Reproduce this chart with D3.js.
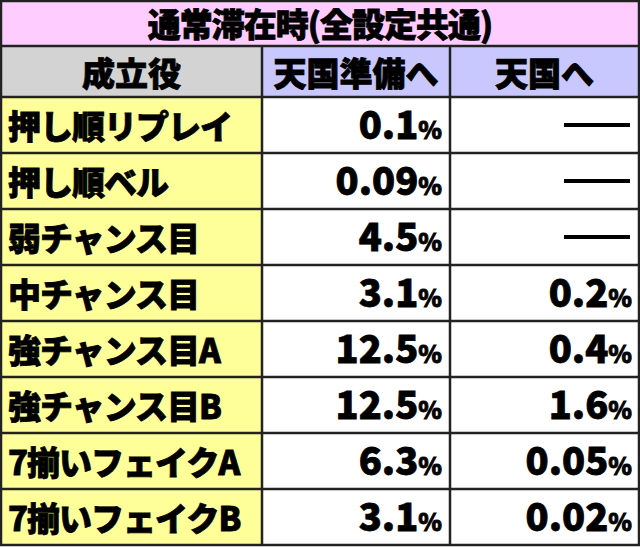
<!DOCTYPE html><html><head><meta charset="utf-8"><script src="https://cdn.jsdelivr.net/npm/d3@7"></script>
<style>body{margin:0;background:#fff}text{stroke:#000;stroke-width:0.8}</style></head><body><svg id="c" width="640" height="547"></svg>
<script>
const title="通常滞在時(全設定共通)";
const headers=["成立役","天国準備へ","天国へ"];
const categories=["押し順リプレイ","押し順ベル","弱チャンス目","中チャンス目","強チャンス目A","強チャンス目B","7揃いフェイクA","7揃いフェイクB"];
const toPrep=["0.1","0.09","4.5","3.1","12.5","12.5","6.3","3.1"];
const toHeaven=[null,null,null,"0.2","0.4","1.6","0.05","0.02"];
const svg=d3.select("#c");
const F="'Noto Sans CJK JP'";
const cols=[1,262,450,639];
const y=d3.scaleBand().domain(d3.range(categories.length)).range([97,545]);
svg.append("rect").attr("x",1).attr("y",1).attr("width",638).attr("height",45).attr("fill","#ffccff");
svg.append("text").attr("x",320).attr("y",23).attr("text-anchor","middle").attr("dominant-baseline","central")
 .attr("font-family",F).attr("font-weight",900).attr("font-size",33).attr("letter-spacing",-1).text(title);
const hc=["#d3d3d3","#c8c8ff","#c8c8ff"];
headers.forEach((h,i)=>{
 svg.append("rect").attr("x",cols[i]).attr("y",46).attr("width",cols[i+1]-cols[i]).attr("height",51).attr("fill",hc[i]);
 svg.append("text").attr("x",(cols[i]+cols[i+1])/2).attr("y",72).attr("text-anchor","middle").attr("dominant-baseline","central")
  .attr("font-family",F).attr("font-weight",900).attr("font-size",33).text(h);
});
const g=svg.selectAll("g.r").data(categories).join("g");
g.append("rect").attr("x",1).attr("y",(d,i)=>y(i)).attr("width",261).attr("height",y.bandwidth()).attr("fill","#ffff99");
g.append("text").attr("x",8).attr("y",(d,i)=>y(i)+y.bandwidth()/2).attr("dominant-baseline","central")
 .attr("font-family",F).attr("font-weight",900).attr("font-size",33).attr("letter-spacing",-1).text(d=>d);
function val(x,v,i){
 const cy=y(i)+y.bandwidth()/2;
 if(v==null){svg.append("line").attr("x1",x-68).attr("x2",x-2).attr("y1",cy).attr("y2",cy).attr("stroke","#000").attr("stroke-width",4);return;}
 const t=svg.append("text").attr("x",x).attr("y",cy+14).attr("text-anchor","end").attr("font-family",F).attr("font-weight",900);
 t.append("tspan").attr("font-size",38).text(v);
 t.append("tspan").attr("font-size",24).text("%");
}
toPrep.forEach((v,i)=>val(442,v,i));
toHeaven.forEach((v,i)=>val(632,v,i));
const bs=[1,46,97].concat(d3.range(1,categories.length+1).map(i=>y(i-1)+y.bandwidth()));
bs.forEach(b=>svg.append("line").attr("x1",0).attr("x2",640).attr("y1",b).attr("y2",b).attr("stroke","#222").attr("stroke-width",2.5));
cols.forEach((c,i)=>svg.append("line").attr("x1",c).attr("x2",c).attr("y1",(i==0||i==3)?0:46).attr("y2",546).attr("stroke","#222").attr("stroke-width",2.5));
</script></body></html>
